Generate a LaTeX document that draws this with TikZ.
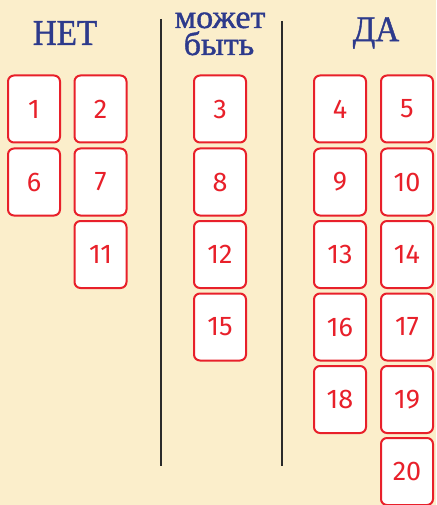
\documentclass[tikz,border=0pt]{standalone}
\usepackage{fontspec}
\setmainfont{Liberation Serif}[FakeBold=1.2]
\newfontfamily\numfont{Fira Sans}
\definecolor{parch}{HTML}{FBEECB}
\definecolor{cardred}{HTML}{E8202A}
\definecolor{headblue}{HTML}{2D3A8C}
\definecolor{sepline}{HTML}{2A2A2A}
\begin{document}
\begin{tikzpicture}[x=1pt,y=-1pt,
  card/.style={draw=cardred,fill=white,line width=2pt,rounded corners=6pt,
    minimum width=52pt,minimum height=67pt,inner sep=0pt,
    text=cardred,font=\numfont\fontsize{27}{27}\selectfont},
  head/.style={text=headblue,inner sep=0pt,font=\fontsize{36}{36}\selectfont},
  sub/.style={text=headblue,inner sep=0pt,anchor=base,text depth=0pt,
    font=\fontsize{33}{33}\selectfont},
  sep/.style={draw=sepline,line width=2pt}]
\fill[parch] (0,0) rectangle (436,505);
\useasboundingbox (0,0) rectangle (436,505);
% headers
\node[head,xscale=0.92] (hnet) at (65,33) {НЕТ};
\node[sub,text height=16pt,xscale=1.03] (hmoz) at (220,28) {может};
\node[sub,text height=20pt,xscale=1.03] (hbyt) at (219,55) {быть};
\node[head,xscale=0.92] (hda) at (376,33) {ДА};
% separators
\coordinate (l1) at (160.5,19);
\coordinate (l2) at (160.5,466);
\coordinate (r1) at (281.5,21);
\coordinate (r2) at (281.5,466);
\draw[sep] (l1) -- (l2);
\draw[sep] (r1) -- (r2);
% cards
\node[card] (c1) at (34,109) {1};
\node[card] (c2) at (100.5,109) {2};
\node[card] (c6) at (34,182) {6};
\node[card] (c7) at (100.5,182) {7};
\node[card] (c11) at (100.5,254.5) {11};
\node[card] (c3) at (220,109) {3};
\node[card] (c8) at (220,182) {8};
\node[card] (c12) at (220,254.5) {12};
\node[card] (c15) at (220,327) {15};
\node[card] (c4) at (340,109) {4};
\node[card] (c5) at (407,109) {5};
\node[card] (c9) at (340,182) {9};
\node[card] (c10) at (407,182) {10};
\node[card] (c13) at (340,254.5) {13};
\node[card] (c14) at (407,254.5) {14};
\node[card] (c16) at (340,327) {16};
\node[card] (c17) at (407,327) {17};
\node[card] (c18) at (340,399.5) {18};
\node[card] (c19) at (407,399.5) {19};
\node[card] (c20) at (407,471.5) {20};
\end{tikzpicture}
\end{document}
